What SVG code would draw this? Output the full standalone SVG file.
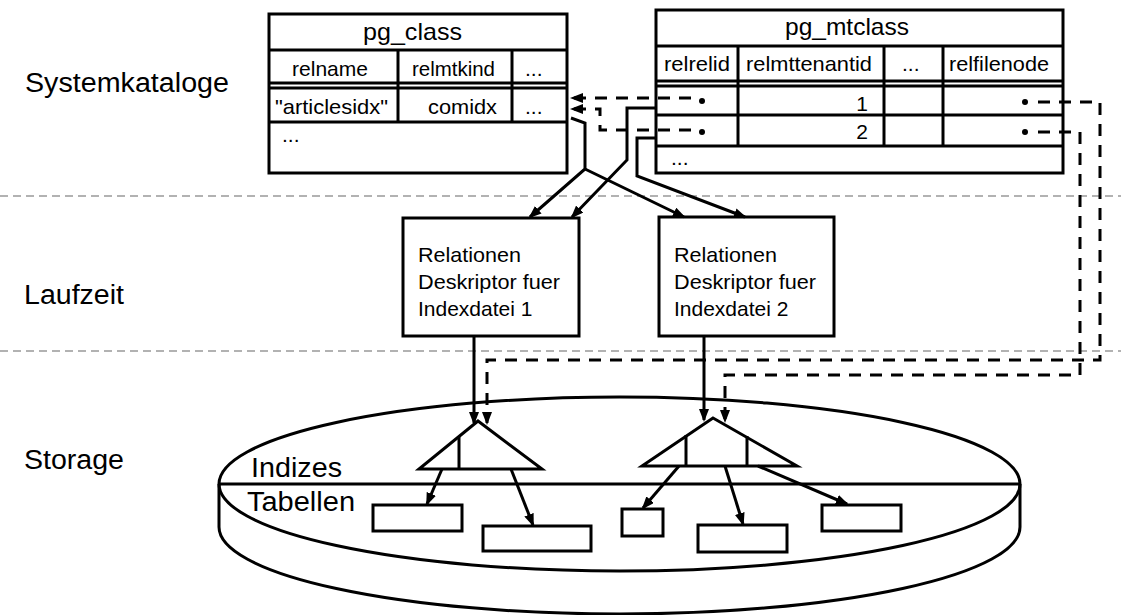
<svg xmlns="http://www.w3.org/2000/svg" width="1121" height="615" viewBox="0 0 1121 615">
<style>
text{font-family:"Liberation Sans",Arial,sans-serif;fill:#000}
.lbl{font-size:27px}
.t{font-size:21px}
.title{font-size:24px}
.box{font-size:21px}
.ln{fill:none;stroke:#000;stroke-width:3}
.dash{fill:none;stroke:#000;stroke-width:3;stroke-dasharray:12 9}
.sep{fill:none;stroke:#999;stroke-width:1.5;stroke-dasharray:8 5}
.shape{fill:#fff;stroke:#000;stroke-width:3}
</style>
<defs>
<marker id="ah" markerUnits="userSpaceOnUse" markerWidth="14" markerHeight="10" refX="11" refY="5" orient="auto" viewBox="0 0 14 10">
<path d="M0,0 L13,5 L0,10 z" fill="#000"/>
</marker>
</defs>
<rect width="1121" height="615" fill="#fff"/>

<g id="layers">
<line class="sep" x1="0" y1="196" x2="1121" y2="196"/>
<line class="sep" x1="0" y1="351" x2="1121" y2="351"/>
<text class="lbl" x="25" y="92" textLength="204" lengthAdjust="spacingAndGlyphs">Systemkataloge</text>
<text class="lbl" x="24" y="304" textLength="100" lengthAdjust="spacingAndGlyphs">Laufzeit</text>
<text class="lbl" x="24" y="469" textLength="100" lengthAdjust="spacingAndGlyphs">Storage</text>
</g>

<g id="storage">
<ellipse class="shape" cx="619.5" cy="484" rx="400.5" ry="87"/>
<path class="ln" d="M219,484 L219,527 A400.5,87 0 0 0 1020,527 L1020,484"/>
<line class="ln" x1="219" y1="484" x2="1020" y2="484"/>
<text class="lbl" x="251" y="477" textLength="91" lengthAdjust="spacingAndGlyphs">Indizes</text>
<text class="lbl" x="247" y="511" textLength="108" lengthAdjust="spacingAndGlyphs">Tabellen</text>
</g>

<g id="index1">
<path class="shape" d="M478,421 L542,469 L419,469 z"/>
<line class="ln" x1="459" y1="436" x2="459" y2="469"/>
</g>
<g id="index2">
<path class="shape" d="M713,418 L797,466 L642,466 z"/>
<line class="ln" x1="686" y1="435" x2="686" y2="466"/>
<line class="ln" x1="747" y1="436" x2="747" y2="466"/>
</g>
<g id="tables">
<rect class="shape" x="373" y="505" width="89" height="26"/>
<rect class="shape" x="483" y="526" width="108" height="25"/>
<rect class="shape" x="622" y="509" width="41" height="27"/>
<rect class="shape" x="698" y="525" width="89" height="27"/>
<rect class="shape" x="822" y="505" width="79" height="26"/>
</g>

<g id="pg_class">
<rect class="shape" x="269" y="14" width="298" height="159"/>
<line class="ln" x1="269" y1="50" x2="567" y2="50"/>
<line class="ln" x1="269" y1="83" x2="567" y2="83"/>
<line class="ln" x1="269" y1="88" x2="567" y2="88"/>
<line class="ln" x1="269" y1="122" x2="567" y2="122"/>
<line class="ln" x1="398" y1="50" x2="398" y2="122"/>
<line class="ln" x1="512" y1="50" x2="512" y2="122"/>
<text class="title" x="363" y="40" textLength="99" lengthAdjust="spacingAndGlyphs">pg_class</text>
<text class="t" x="292" y="76" textLength="76" lengthAdjust="spacingAndGlyphs">relname</text>
<text class="t" x="412" y="76" textLength="83" lengthAdjust="spacingAndGlyphs">relmtkind</text>
<text class="t" x="525" y="76">...</text>
<text class="t" x="275" y="114" textLength="113" lengthAdjust="spacingAndGlyphs">"articlesidx"</text>
<text class="t" x="428" y="114" textLength="69" lengthAdjust="spacingAndGlyphs">comidx</text>
<text class="t" x="525" y="114">...</text>
<text class="t" x="282" y="142">...</text>
</g>

<g id="pg_mtclass">
<rect class="shape" x="656" y="10" width="407" height="163"/>
<line class="ln" x1="656" y1="46" x2="1063" y2="46"/>
<line class="ln" x1="656" y1="81" x2="1063" y2="81"/>
<line class="ln" x1="656" y1="86" x2="1063" y2="86"/>
<line class="ln" x1="656" y1="115" x2="1063" y2="115"/>
<line class="ln" x1="656" y1="146" x2="1063" y2="146"/>
<line class="ln" x1="738" y1="46" x2="738" y2="146"/>
<line class="ln" x1="884" y1="46" x2="884" y2="146"/>
<line class="ln" x1="943" y1="46" x2="943" y2="146"/>
<text class="title" x="785" y="35" textLength="124" lengthAdjust="spacingAndGlyphs">pg_mtclass</text>
<text class="t" x="664" y="71" textLength="66" lengthAdjust="spacingAndGlyphs">relrelid</text>
<text class="t" x="746" y="71" textLength="126" lengthAdjust="spacingAndGlyphs">relmttenantid</text>
<text class="t" x="902" y="71">...</text>
<text class="t" x="949" y="71" textLength="100" lengthAdjust="spacingAndGlyphs">relfilenode</text>
<text class="t" x="868" y="111" text-anchor="end">1</text>
<text class="t" x="868" y="139" text-anchor="end">2</text>
<text class="t" x="671" y="165">...</text>
<circle cx="702" cy="101" r="3"/>
<circle cx="702" cy="132" r="3"/>
<circle cx="1025" cy="102" r="3"/>
<circle cx="1025" cy="132" r="3"/>
</g>

<g id="descriptor1">
<rect class="shape" x="403" y="218" width="176" height="118"/>
<text class="box" x="418" y="262" textLength="103" lengthAdjust="spacingAndGlyphs">Relationen</text>
<text class="box" x="418" y="289" textLength="142" lengthAdjust="spacingAndGlyphs">Deskriptor fuer</text>
<text class="box" x="418" y="316">Indexdatei 1</text>
</g>
<g id="descriptor2">
<rect class="shape" x="659" y="217" width="175" height="119"/>
<text class="box" x="674" y="262" textLength="103" lengthAdjust="spacingAndGlyphs">Relationen</text>
<text class="box" x="674" y="289" textLength="142" lengthAdjust="spacingAndGlyphs">Deskriptor fuer</text>
<text class="box" x="674" y="316">Indexdatei 2</text>
</g>

<g id="connectors">
<path class="ln" d="M571,118 L585,123 L585,169 L530,217" marker-end="url(#ah)"/>
<path class="ln" d="M585,169 L684,217" marker-end="url(#ah)"/>
<path class="ln" d="M656,108 L627,108 L627,160 L572,217" marker-end="url(#ah)"/>
<path class="ln" d="M656,138 L637,138 L637,176 L745,217" marker-end="url(#ah)"/>
<path class="ln" d="M474,336 L474,423" marker-end="url(#ah)"/>
<path class="ln" d="M704,336 L704,420" marker-end="url(#ah)"/>
<path class="dash" d="M691,98 L572,98" marker-end="url(#ah)"/>
<path class="dash" d="M691,130 L600,130 L600,109 L572,109" marker-end="url(#ah)"/>
<path class="dash" d="M1038,102 L1100,102 L1100,360 L487,360 L487,423" marker-end="url(#ah)"/>
<path class="dash" d="M1038,132 L1080,132 L1080,375 L725,375 L725,421" marker-end="url(#ah)"/>
<path class="ln" d="M442,469 L427,504" marker-end="url(#ah)"/>
<path class="ln" d="M511,469 L533,525" marker-end="url(#ah)"/>
<path class="ln" d="M679,466 L643,508" marker-end="url(#ah)"/>
<path class="ln" d="M725,466 L743,524" marker-end="url(#ah)"/>
<path class="ln" d="M758,466 L847,504" marker-end="url(#ah)"/>
</g>
</svg>
